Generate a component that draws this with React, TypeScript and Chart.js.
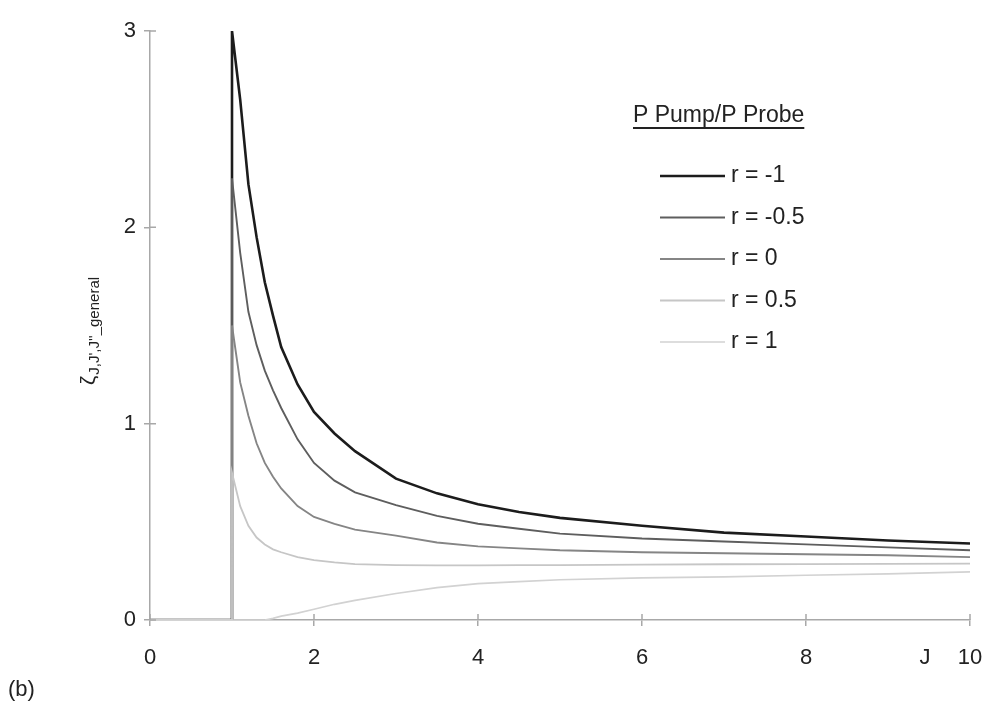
import React, { useEffect, useRef } from "react";
import { Chart, registerables } from "chart.js";

Chart.register(...registerables);

// J values (x axis)
const J = [0, 1, 1, 1.1, 1.2, 1.3, 1.4, 1.5, 1.6, 1.8, 2, 2.25, 2.5, 3, 3.5, 4, 4.5, 5, 6, 7, 8, 9, 10];

// series values, one per r
const rMinus1 = [0, 0, 3.0, 2.65, 2.22, 1.95, 1.72, 1.55, 1.39, 1.2, 1.06, 0.95, 0.86, 0.72, 0.645, 0.59, 0.55, 0.52, 0.48, 0.445, 0.425, 0.405, 0.39];
const rMinusHalf = [0, 0, 2.25, 1.87, 1.57, 1.4, 1.27, 1.17, 1.08, 0.92, 0.8, 0.71, 0.65, 0.585, 0.53, 0.49, 0.465, 0.44, 0.415, 0.4, 0.385, 0.37, 0.355];
const rZero = [0, 0, 1.5, 1.21, 1.04, 0.9, 0.8, 0.73, 0.67, 0.58, 0.525, 0.49, 0.46, 0.43, 0.395, 0.375, 0.365, 0.355, 0.345, 0.34, 0.335, 0.33, 0.32];
const rHalf = [0, 0, 0.75, 0.58, 0.48, 0.42, 0.385, 0.36, 0.345, 0.32, 0.305, 0.293, 0.285, 0.28, 0.278, 0.278, 0.279, 0.28, 0.282, 0.284, 0.285, 0.286, 0.287];
const rOne = [0, 0, 0, 0, 0, 0, 0, 0.008, 0.02, 0.035, 0.055, 0.08, 0.1, 0.135, 0.165, 0.185, 0.195, 0.205, 0.215, 0.22, 0.228, 0.235, 0.245];

const seriesLabels = ["r = -1", "r = -0.5", "r = 0", "r = 0.5", "r = 1"];
const seriesValues = [rMinus1, rMinusHalf, rZero, rHalf, rOne];
const seriesColors = ["#1c1c1c", "#5e5e5e", "#858585", "#c6c6c6", "#d2d2d2"];
const seriesWidths = [2.6, 1.9, 1.9, 1.8, 1.7];

const xTicks = [0, 2, 4, 6, 8, 10];
const yTicks = [0, 1, 2, 3];

const legendTitle = "P Pump/P Probe";
const xAxisTitle = "J";
const panelLabel = "(b)";
const yTitleMain = "ζ";
const yTitleSub = "J,J',J''_general";

const FONT = "'Liberation Sans', Arial, sans-serif";
const AXIS_COLOR = "#a8a8a8";

const annotationsPlugin = {
  id: "annotations",
  afterDraw(chart: any) {
    const ctx = chart.ctx;
    const area = chart.chartArea;
    const xs = chart.scales.x;
    const ys = chart.scales.y;
    ctx.save();

    // inner halves of the crossing tick marks
    ctx.strokeStyle = AXIS_COLOR;
    ctx.lineWidth = 1.5;
    ctx.beginPath();
    xTicks.forEach((v) => {
      const px = xs.getPixelForValue(v);
      ctx.moveTo(px, area.bottom);
      ctx.lineTo(px, area.bottom - 6);
    });
    yTicks.forEach((v) => {
      const py = ys.getPixelForValue(v);
      ctx.moveTo(area.left, py);
      ctx.lineTo(area.left + 6, py);
    });
    ctx.stroke();

    // legend title
    ctx.fillStyle = "#222";
    ctx.font = `23px ${FONT}`;
    ctx.textBaseline = "middle";
    ctx.textAlign = "left";
    const tx = 633;
    const ty = 116;
    ctx.fillText(legendTitle, tx, ty);
    const w = ctx.measureText(legendTitle).width;
    ctx.strokeStyle = "#222";
    ctx.lineWidth = 1.8;
    ctx.beginPath();
    ctx.moveTo(tx, ty + 12);
    ctx.lineTo(tx + w, ty + 12);
    ctx.stroke();

    // legend entries
    chart.data.datasets.forEach((ds: any, i: number) => {
      const y = 176 + i * 41.5;
      ctx.strokeStyle = ds.borderColor;
      ctx.lineWidth = ds.borderWidth;
      ctx.beginPath();
      ctx.moveTo(660, y);
      ctx.lineTo(725, y);
      ctx.stroke();
      ctx.fillStyle = "#222";
      ctx.font = `23px ${FONT}`;
      ctx.fillText(ds.label, 731, y);
    });

    // x axis title "J"
    ctx.font = `22px ${FONT}`;
    ctx.textAlign = "center";
    ctx.fillText(xAxisTitle, 925, 658);

    // panel label
    ctx.textAlign = "left";
    ctx.fillText(panelLabel, 8, 690);

    // y axis title (rotated)
    ctx.translate(95, 385);
    ctx.rotate(-Math.PI / 2);
    ctx.textAlign = "left";
    ctx.textBaseline = "alphabetic";
    ctx.font = `21px ${FONT}`;
    ctx.fillText(yTitleMain, 0, 0);
    const zw = ctx.measureText(yTitleMain).width;
    ctx.font = `15px ${FONT}`;
    ctx.fillText(yTitleSub, zw + 1, 4);
    ctx.restore();
  },
};

export default function App() {
  const ref = useRef<HTMLCanvasElement | null>(null);
  useEffect(() => {
    if (!ref.current) return;
    const datasets = seriesValues.map((vals, i) => ({
      label: seriesLabels[i],
      data: J.map((x, k) => ({ x, y: vals[k] })),
      borderColor: seriesColors[i],
      backgroundColor: seriesColors[i],
      borderWidth: seriesWidths[i],
      pointRadius: 0,
      tension: 0,
      fill: false,
      order: seriesValues.length - i,
    }));
    const chart = new Chart(ref.current, {
      type: "line",
      data: { datasets },
      plugins: [annotationsPlugin],
      options: {
        animation: false,
        responsive: false,
        maintainAspectRatio: false,
        layout: { padding: { left: 0, right: 16, top: 31, bottom: 0 } },
        plugins: {
          legend: { display: false },
          tooltip: { enabled: false },
          title: { display: false },
        },
        scales: {
          x: {
            type: "linear",
            min: 0,
            max: 10,
            afterFit: (s: any) => {
              s.height = 82;
              s.paddingLeft = 0;
              s.paddingRight = 0;
            },
            afterBuildTicks: (s: any) => {
              s.ticks = xTicks.map((v) => ({ value: v }));
            },
            border: { display: true, color: AXIS_COLOR, width: 1.5 },
            grid: { drawOnChartArea: false, drawTicks: true, tickLength: 6, color: AXIS_COLOR, lineWidth: 1.5 },
            ticks: {
              color: "#222",
              font: { family: FONT, size: 22 },
              padding: 19,
              maxRotation: 0,
            },
          },
          y: {
            type: "linear",
            min: 0,
            max: 3,
            afterFit: (s: any) => {
              s.width = 150;
              s.paddingTop = 0;
              s.paddingBottom = 0;
            },
            afterBuildTicks: (s: any) => {
              s.ticks = yTicks.map((v) => ({ value: v }));
            },
            border: { display: true, color: AXIS_COLOR, width: 1.5 },
            grid: { drawOnChartArea: false, drawTicks: true, tickLength: 6, color: AXIS_COLOR, lineWidth: 1.5 },
            ticks: {
              color: "#222",
              font: { family: FONT, size: 22 },
              padding: 8,
            },
          },
        },
      },
    });
    return () => chart.destroy();
  }, []);
  return (
    <div style={{ position: "fixed", left: 0, top: 0, width: 986, height: 702, background: "#fff" }}>
      <canvas ref={ref} width={986} height={702} style={{ width: 986, height: 702 }} />
    </div>
  );
}
